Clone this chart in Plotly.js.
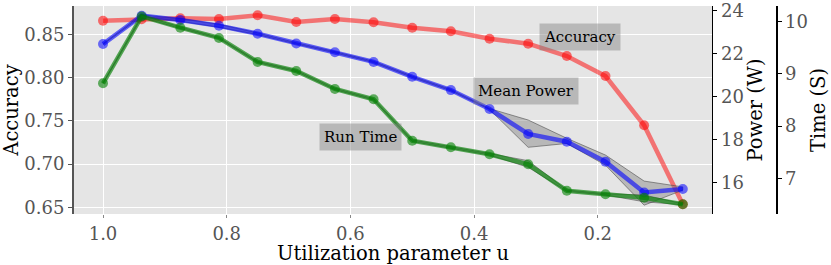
<!DOCTYPE html>
<html>
<head>
<meta charset="utf-8">
<script src="https://cdn.plot.ly/plotly-3.0.1.min.js"></script>
<style>html,body{margin:0;padding:0;background:#fff;}#chart{width:831px;height:265px;}</style>
</head>
<body>
<div id="chart"></div>
<script>
// Utilization parameter u
const u = [1.0, 0.9375, 0.875, 0.8125, 0.75, 0.6875, 0.625, 0.5625, 0.5, 0.4375, 0.375, 0.3125, 0.25, 0.1875, 0.125, 0.0625];
// Accuracy (left axis)
const accuracy = [0.8657, 0.8673, 0.8685, 0.8677, 0.8720, 0.8642, 0.8677, 0.8639, 0.8576, 0.8535, 0.8449, 0.8391, 0.8249, 0.8018, 0.7448, 0.6535];
// Mean power (W)
const powerMean  = [22.44, 23.76, 23.56, 23.29, 22.92, 22.47, 22.06, 21.61, 20.92, 20.30, 19.42, 18.26, 17.90, 16.97, 15.54, 15.70];
const powerUpper = [22.46, 23.80, 23.62, 23.36, 22.96, 22.50, 22.09, 21.64, 20.95, 20.33, 19.44, 18.91, 18.06, 17.28, 16.07, 15.80];
const powerLower = [22.42, 23.72, 23.50, 23.22, 22.88, 22.44, 22.03, 21.58, 20.89, 20.27, 19.40, 17.64, 17.82, 16.81, 14.95, 15.65];
// Run time (S)
const timeMean  = [8.82, 10.10, 9.885, 9.688, 9.228, 9.056, 8.711, 8.513, 7.72, 7.594, 7.46, 7.268, 6.762, 6.693, 6.628, 6.502];
const timeUpper = [8.83, 10.12, 9.90, 9.70, 9.24, 9.07, 8.725, 8.525, 7.735, 7.61, 7.475, 7.337, 6.775, 6.705, 6.68, 6.512];
const timeLower = [8.81, 10.08, 9.87, 9.676, 9.216, 9.042, 8.697, 8.50, 7.705, 7.58, 7.445, 7.21, 6.75, 6.68, 6.55, 6.492];
// Tick labels
const xTicks = [1.0, 0.8, 0.6, 0.4, 0.2];
const xTickText = ["1.0", "0.8", "0.6", "0.4", "0.2"];
const accTicks = [0.65, 0.70, 0.75, 0.80, 0.85];
const accTickText = ["0.65", "0.70", "0.75", "0.80", "0.85"];
const powerTicks = [16, 18, 20, 22, 24];
const powerTickText = ["16", "18", "20", "22", "24"];
const timeTicks = [7, 8, 9, 10];
const timeTickText = ["7", "8", "9", "10"];

const FONT = "DejaVu Serif, Liberation Serif, serif";

function band(xs, up, lo, yaxis) {
  return {
    x: xs.concat(xs.slice().reverse()),
    y: up.concat(lo.slice().reverse()),
    yaxis: yaxis, type: "scatter", mode: "lines", fill: "toself",
    fillcolor: "rgba(128,128,128,0.45)",
    line: {color: "rgba(70,70,70,0.7)", width: 0.8},
    hoverinfo: "skip", showlegend: false
  };
}

const traces = [
  {x: u, y: accuracy, type: "scatter", mode: "lines+markers", yaxis: "y",
   line: {color: "rgba(255,0,0,0.5)", width: 4.5},
   marker: {color: "rgba(255,0,0,0.55)", size: 10}, showlegend: false},
  band(u, powerUpper, powerLower, "y2"),
  {x: u, y: powerMean, type: "scatter", mode: "lines+markers", yaxis: "y2",
   line: {color: "rgba(0,0,255,0.6)", width: 4.5},
   marker: {color: "rgba(0,0,255,0.55)", size: 10}, showlegend: false},
  band(u, timeUpper, timeLower, "y3"),
  {x: u, y: timeMean, type: "scatter", mode: "lines+markers", yaxis: "y3",
   line: {color: "rgba(0,128,0,0.65)", width: 4.5},
   marker: {color: "rgba(0,128,0,0.6)", size: 10}, showlegend: false}
];

const annBox = {xref: "x", yref: "y", showarrow: false,
  font: {family: FONT, size: 15, color: "#000"},
  bgcolor: "rgba(128,128,128,0.45)", borderpad: 4};

const layout = {
  width: 831, height: 265,
  margin: {l: 74, r: 55, t: 6, b: 51},
  paper_bgcolor: "#ffffff", plot_bgcolor: "#e5e5e5",
  font: {family: FONT, size: 18, color: "#555"},
  showlegend: false,
  xaxis: {
    domain: [0, 0.9088], range: [1.0469, 0.0153],
    tickvals: xTicks, ticktext: xTickText,
    showgrid: true, gridcolor: "#ffffff", gridwidth: 1,
    zeroline: false, showline: false,
    ticks: "outside", ticklen: 3, tickcolor: "#888",
    tickfont: {family: FONT, size: 18, color: "#555"},
    title: {text: "Utilization parameter u", font: {family: FONT, size: 19.5, color: "#000"}, standoff: 6}
  },
  yaxis: {
    range: [0.6423, 0.8827],
    tickvals: accTicks, ticktext: accTickText,
    showgrid: true, gridcolor: "#ffffff", gridwidth: 1,
    zeroline: false, showline: true, linecolor: "#555", linewidth: 2,
    ticks: "outside", ticklen: 4, tickcolor: "#555",
    tickfont: {family: FONT, size: 18, color: "#555"},
    title: {text: "Accuracy", font: {family: FONT, size: 19.5, color: "#000"}, standoff: 3}
  },
  yaxis2: {
    overlaying: "y", side: "right", anchor: "x",
    range: [14.54, 24.21], tickvals: powerTicks, ticktext: powerTickText,
    ticklabeloverflow: "allow",
    showgrid: false, zeroline: false, showline: true, linecolor: "#000", linewidth: 1.5,
    ticks: "outside", ticklen: 4, tickcolor: "#000",
    tickfont: {family: FONT, size: 18, color: "#555"},
    title: {text: "Power (W)", font: {family: FONT, size: 19.5, color: "#000"}, standoff: 4}
  },
  yaxis3: {
    overlaying: "y", side: "right", anchor: "free", position: 1.0,
    range: [6.316, 10.30], tickvals: timeTicks, ticktext: timeTickText,
    ticklabeloverflow: "allow",
    showgrid: false, zeroline: false, showline: true, linecolor: "#000", linewidth: 1.5,
    ticks: "outside", ticklen: 4, tickcolor: "#000",
    tickfont: {family: FONT, size: 18, color: "#555"},
    title: {text: "Time (S)", font: {family: FONT, size: 19.5, color: "#000"}, standoff: 4}
  },
  annotations: [
    Object.assign({}, annBox, {x: 0.2287, y: 0.8463, text: "Accuracy"}),
    Object.assign({}, annBox, {x: 0.316, y: 0.7842, text: "Mean Power"}),
    Object.assign({}, annBox, {x: 0.5836, y: 0.7316, text: "Run Time"})
  ]
};

Plotly.newPlot("chart", traces, layout, {displayModeBar: false, staticPlot: true});
</script>
</body>
</html>
